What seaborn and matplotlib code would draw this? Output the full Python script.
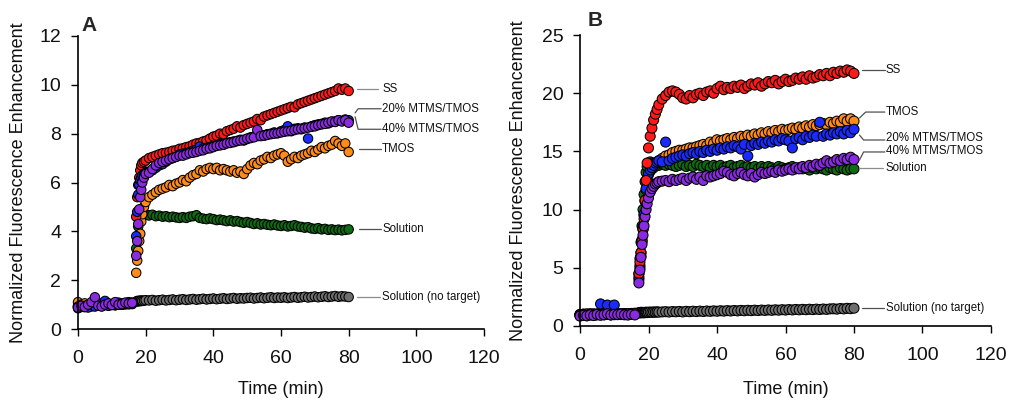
import matplotlib
matplotlib.use("Agg")
import matplotlib.pyplot as plt
import pandas as pd
import seaborn as sns

# ---------------- Panel A data ----------------
time_a = [0, 1, 2, 3, 4, 5, 6, 7, 8, 9, 10, 11, 12, 13, 14, 15, 16,
          17.2, 17.5, 17.8, 18.1, 18.4, 18.7, 19, 19.5, 20,
          21, 22, 23, 24, 25, 26, 27, 28, 29, 30,
          31, 32, 33, 34, 35, 36, 37, 38, 39, 40,
          41, 42, 43, 44, 45, 46, 47, 48, 49, 50,
          51, 52, 53, 54, 55, 56, 57, 58, 59, 60,
          61, 62, 63, 64, 65, 66, 67, 68, 69, 70,
          71, 72, 73, 74, 75, 76, 77, 78, 79, 80]

a_ss = [0.92, 0.95, 0.90, 0.98, 0.93, 1.00, 0.96, 0.99, 1.02, 0.97, 1.00, 1.04, 0.99, 1.03, 1.05, 1.01, 1.06,
        4.6, 5.4, 5.9, 6.2, 6.5, 6.7, 6.8, 6.85, 6.9,
        7.00, 7.05, 7.10, 7.15, 7.20, 7.22, 7.25, 7.30, 7.32, 7.38,
        7.40, 7.45, 7.48, 7.55, 7.60, 7.62, 7.68, 7.72, 7.80, 7.88,
        7.92, 8.00, 7.98, 8.10, 8.15, 8.20, 8.30, 8.25, 8.35, 8.40,
        8.45, 8.50, 8.60, 8.55, 8.70, 8.75, 8.80, 8.85, 8.90, 8.95,
        9.00, 9.05, 9.10, 9.08, 9.20, 9.25, 9.30, 9.35, 9.40, 9.45,
        9.50, 9.55, 9.60, 9.65, 9.70, 9.75, 9.85, 9.80, 9.85, 9.75]

a_m20 = [0.85, 0.90, 0.95, 0.88, 1.00, 0.92, 0.97, 1.05, 1.15, 0.95, 1.02, 0.98, 1.08, 1.00, 1.05, 1.10, 1.02,
         3.8, 4.8, 5.5, 5.9, 6.1, 6.2, 6.3, 6.35, 6.4,
         6.45, 6.50, 6.60, 6.70, 6.75, 6.85, 6.95, 7.00, 7.05, 7.15,
         7.18, 7.20, 7.25, 7.30, 7.35, 7.47, 7.40, 7.42, 7.45, 7.50,
         7.52, 7.58, 7.55, 7.62, 7.65, 7.68, 7.70, 7.75, 7.72, 7.78,
         7.85, 7.88, 7.90, 7.95, 7.92, 7.98, 8.00, 8.05, 8.02, 8.10,
         8.15, 8.30, 8.10, 8.20, 8.22, 8.18, 8.25, 7.80, 8.30, 8.35,
         8.38, 8.40, 8.45, 8.42, 8.48, 8.50, 8.55, 8.52, 8.58, 8.55]

a_m40 = [0.88, 0.95, 0.90, 1.00, 1.10, 1.30, 0.95, 0.92, 1.00, 1.05, 0.98, 1.10, 1.00, 1.02, 1.08, 1.05, 1.07,
         3.0, 3.6, 4.3, 4.9, 5.4, 5.7, 6.0, 6.2, 6.35,
         6.40, 6.55, 6.70, 6.80, 6.85, 6.90, 6.95, 7.00, 7.05, 7.10,
         7.10, 7.15, 7.20, 7.22, 7.25, 7.30, 7.32, 7.38, 7.40, 7.45,
         7.50, 7.52, 7.55, 7.60, 7.62, 7.65, 7.70, 7.72, 7.75, 7.80,
         7.82, 7.85, 8.15, 7.90, 7.92, 7.95, 7.98, 8.00, 8.02, 8.05,
         8.08, 8.10, 8.12, 8.15, 8.18, 8.20, 8.22, 8.25, 8.28, 8.30,
         8.35, 8.38, 8.40, 8.45, 8.50, 8.48, 8.55, 8.50, 8.55, 8.45]

a_tmos = [1.10, 1.00, 1.05, 0.95, 1.00, 0.98, 1.02, 0.96, 1.00, 1.04, 0.99, 1.02, 1.05, 1.00, 1.06, 1.03, 1.08,
          2.3, 2.8, 3.2, 3.6, 3.9, 4.4, 4.7, 5.0, 5.2,
          5.40, 5.50, 5.60, 5.70, 5.75, 5.80, 5.90, 5.85, 5.95, 6.00,
          6.10, 6.05, 6.20, 6.30, 6.35, 6.50, 6.45, 6.55, 6.60, 6.55,
          6.60, 6.50, 6.55, 6.50, 6.45, 6.50, 6.40, 6.45, 6.35, 6.55,
          6.70, 6.80, 6.75, 6.90, 6.95, 7.05, 7.00, 7.10, 7.15, 7.20,
          7.10, 6.85, 6.95, 7.05, 7.00, 7.10, 7.15, 7.20, 7.30, 7.25,
          7.35, 7.45, 7.40, 7.50, 7.55, 7.70, 7.60, 7.50, 7.60, 7.25]

a_sol = [0.95, 1.00, 0.92, 0.98, 1.02, 0.96, 1.00, 0.94, 1.03, 0.99, 1.01, 0.97, 1.04, 1.00, 1.02, 1.05, 1.03,
         3.3, 3.8, 4.2, 4.45, 4.55, 4.6, 4.65, 4.65, 4.68,
         4.65, 4.68, 4.62, 4.64, 4.60, 4.62, 4.58, 4.60, 4.57, 4.55,
         4.58, 4.55, 4.60, 4.62, 4.66, 4.55, 4.52, 4.50, 4.53, 4.50,
         4.46, 4.48, 4.45, 4.42, 4.45, 4.40, 4.42, 4.38, 4.35, 4.38,
         4.34, 4.30, 4.33, 4.28, 4.30, 4.27, 4.25, 4.28, 4.24, 4.22,
         4.25, 4.20, 4.22, 4.25, 4.20, 4.18, 4.15, 4.17, 4.12, 4.10,
         4.13, 4.08, 4.10, 4.06, 4.08, 4.05, 4.07, 4.04, 4.06, 4.08]

a_nt = [0.90, 0.95, 0.92, 0.97, 0.94, 0.99, 0.96, 1.00, 0.98, 1.01, 0.99, 1.02, 1.00, 1.03, 1.01, 1.04, 1.05,
        1.12, 1.15, 1.13, 1.16, 1.14, 1.17, 1.15, 1.16, 1.18,
        1.17, 1.19, 1.16, 1.18, 1.20, 1.17, 1.19, 1.21, 1.18, 1.20,
        1.22, 1.19, 1.21, 1.23, 1.20, 1.22, 1.24, 1.21, 1.23, 1.25,
        1.22, 1.24, 1.26, 1.23, 1.25, 1.27, 1.24, 1.26, 1.25, 1.27,
        1.28, 1.25, 1.27, 1.29, 1.26, 1.28, 1.30, 1.27, 1.29, 1.28,
        1.30, 1.27, 1.29, 1.31, 1.28, 1.30, 1.32, 1.29, 1.31, 1.33,
        1.30, 1.32, 1.34, 1.31, 1.33, 1.35, 1.32, 1.34, 1.33, 1.31]

# ---------------- Panel B data ----------------
time_b = [0, 1, 2, 3, 4, 5, 6, 7, 8, 9, 10, 11, 12, 13, 14, 15, 16,
          17.2, 17.5, 17.8, 18.1, 18.4, 18.7, 19, 19.3, 19.6, 20, 20.5, 21, 21.5, 22, 22.5, 23, 24,
          25, 26, 27, 28, 29, 30, 31, 32, 33, 34,
          35, 36, 37, 38, 39, 40, 41, 42, 43, 44,
          45, 46, 47, 48, 49, 50, 51, 52, 53, 54,
          55, 56, 57, 58, 59, 60, 61, 62, 63, 64,
          65, 66, 67, 68, 69, 70, 71, 72, 73, 74,
          75, 76, 77, 78, 79, 80]

b_ss = [0.90, 0.95, 0.88, 0.97, 0.92, 1.00, 0.95, 0.98, 1.02, 0.96, 1.00, 1.04, 0.98, 1.03, 1.05, 1.00, 1.06,
        4.5, 5.5, 6.3, 7.3, 8.3, 9.2, 10.8, 12.5, 14.0, 15.3, 16.3, 17.0, 17.7, 18.2, 18.6, 19.0, 19.5,
        19.8, 20.1, 20.2, 20.1, 19.9, 19.6, 19.5, 19.8, 19.6, 19.9,
        20.0, 19.8, 20.1, 20.2, 20.0, 20.4, 20.6, 20.3, 20.5, 20.4,
        20.6, 20.5, 20.7, 20.4, 20.6, 20.8, 20.7, 20.9, 20.6, 20.8,
        21.0, 20.9, 21.1, 20.8, 21.0, 21.2, 21.0, 21.1, 21.3, 21.2,
        21.4, 21.2, 21.5, 21.3, 21.4, 21.6, 21.5, 21.7, 21.5, 21.8,
        21.7, 21.9, 21.8, 22.0, 21.9, 21.7]

b_tmos = [1.00, 0.95, 1.05, 0.98, 1.02, 0.96, 1.00, 1.04, 0.99, 1.02, 0.97, 1.03, 1.00, 1.05, 1.01, 1.04, 1.06,
          4.0, 5.0, 6.0, 7.2, 8.3, 9.5, 10.7, 11.7, 12.5, 13.0, 13.3, 13.5, 13.6, 13.8, 14.0, 14.2, 14.4,
          14.6, 14.7, 14.9, 15.0, 15.1, 15.1, 15.2, 15.3, 15.3, 15.4,
          15.5, 15.6, 15.5, 15.8, 15.7, 16.0, 15.9, 16.0, 16.1, 16.0,
          16.2, 16.1, 16.3, 16.2, 16.4, 16.3, 16.5, 16.4, 16.6, 16.5,
          16.7, 16.6, 16.8, 16.7, 16.9, 16.8, 16.9, 17.0, 16.9, 17.1,
          17.0, 17.2, 17.1, 17.3, 17.2, 17.3, 17.4, 17.3, 17.5, 17.4,
          17.6, 17.5, 17.8, 17.6, 17.8, 17.6]

b_m20 = [0.95, 1.00, 0.92, 1.05, 0.98, 1.02, 1.90, 1.00, 1.80, 0.97, 1.80, 1.02, 0.99, 1.04, 1.00, 1.05, 1.03,
         4.2, 5.2, 6.3, 7.4, 8.5, 9.6, 10.8, 11.8, 12.6, 13.1, 13.4, 13.6, 13.8, 14.0, 14.1, 14.2, 14.1,
         15.8, 14.2, 14.4, 14.5, 14.6, 14.7, 14.6, 14.8, 14.9, 14.8,
         15.0, 14.9, 15.1, 15.0, 15.2, 15.1, 15.3, 15.2, 15.4, 15.3,
         15.5, 15.4, 15.2, 15.6, 14.6, 15.5, 15.7, 15.6, 15.8, 15.7,
         15.9, 15.8, 16.0, 15.9, 16.1, 16.0, 15.9, 15.3, 16.1, 16.2,
         16.0, 16.3, 16.2, 16.4, 16.3, 17.5, 16.3, 16.5, 16.4, 16.6,
         16.5, 16.7, 16.5, 16.8, 16.6, 16.9]

b_m40 = [0.85, 0.92, 0.88, 0.95, 0.90, 1.00, 0.93, 0.97, 1.05, 0.95, 1.00, 0.98, 1.02, 0.96, 0.94, 1.00, 0.95,
         3.7, 4.8, 5.9, 7.0, 7.8, 8.6, 9.4, 10.0, 10.5, 11.0, 11.5, 11.8, 12.0, 12.2, 12.3, 12.4, 12.45,
         12.5, 12.4, 12.6, 12.5, 12.6, 12.7, 12.5, 12.7, 12.8, 12.6,
         12.8, 12.5, 12.9, 12.8, 12.9, 13.0, 13.1, 13.3, 13.2, 13.0,
         12.9, 13.1, 13.2, 13.0, 12.9, 13.1, 12.8, 13.0, 13.2, 13.1,
         13.2, 13.3, 13.2, 13.4, 13.3, 13.4, 13.5, 13.4, 13.6, 13.5,
         13.7, 13.6, 13.8, 13.7, 13.9, 13.8, 14.0, 14.2, 14.0, 14.1,
         14.3, 14.2, 14.4, 14.3, 14.5, 14.3]

b_sol = [0.98, 1.02, 0.95, 1.00, 1.04, 0.97, 1.01, 0.96, 1.03, 0.99, 1.02, 0.98, 1.05, 1.00, 1.03, 0.99, 1.04,
         4.5, 5.8, 7.2, 8.6, 10.0, 11.3, 12.4, 13.2, 13.7, 14.0, 14.1, 14.0, 13.9, 14.0, 13.9, 13.8, 13.9,
         13.8, 13.9, 13.8, 13.7, 13.8, 13.9, 13.7, 13.8, 13.7, 13.9,
         13.8, 13.7, 13.8, 13.6, 13.8, 13.7, 13.8, 13.6, 13.7, 13.8,
         13.6, 13.7, 13.8, 13.6, 13.7, 13.6, 13.7, 13.5, 13.7, 13.6,
         13.7, 13.6, 13.5, 13.7, 13.6, 13.5, 13.6, 13.7, 13.5, 13.6,
         13.5, 13.6, 13.4, 13.6, 13.5, 13.6, 13.5, 13.4, 13.6, 13.5,
         13.4, 13.6, 13.5, 13.4, 13.5, 13.5]

b_nt = [0.95, 1.00, 0.97, 1.02, 0.99, 1.03, 1.00, 1.04, 1.01, 1.05, 1.02, 1.06, 1.03, 1.07, 1.04, 1.08, 1.10,
        1.15, 1.12, 1.18, 1.14, 1.17, 1.13, 1.16, 1.19, 1.15, 1.18, 1.20, 1.17, 1.21, 1.18, 1.22, 1.19, 1.21,
        1.23, 1.20, 1.24, 1.22, 1.25, 1.21, 1.26, 1.23, 1.27, 1.24,
        1.28, 1.25, 1.29, 1.26, 1.30, 1.27, 1.31, 1.28, 1.32, 1.29,
        1.33, 1.30, 1.34, 1.31, 1.35, 1.32, 1.36, 1.33, 1.37, 1.34,
        1.38, 1.35, 1.39, 1.36, 1.40, 1.37, 1.41, 1.38, 1.42, 1.39,
        1.43, 1.40, 1.44, 1.41, 1.45, 1.42, 1.46, 1.43, 1.47, 1.48,
        1.45, 1.50, 1.47, 1.52, 1.49, 1.53]

x_ticks = [0, 20, 40, 60, 80, 100, 120]
yticks_a = [0, 2, 4, 6, 8, 10, 12]
yticks_b = [0, 5, 10, 15, 20, 25]

palette = {
    "Solution (no target)": "#6E6E6E",
    "Solution": "#0E6B12",
    "TMOS": "#FF8C1A",
    "SS": "#FF1A1A",
    "20% MTMS/TMOS": "#1A2BFF",
    "40% MTMS/TMOS": "#8A2BE2",
}

sns.set_theme(style="ticks")
plt.rcParams['font.family'] = ['Liberation Sans', 'DejaVu Sans']

fig = plt.figure(figsize=(10.12, 4.0), dpi=100)
axA = fig.add_axes([78 / 1012, 1 - 329 / 400, 406 / 1012, 293 / 400])
axB = fig.add_axes([580 / 1012, 1 - 326 / 400, 411 / 1012, 291 / 400])


def long_frame(t, series):
    parts = []
    for name, vals in series:
        parts.append(pd.DataFrame({"t": t, "v": vals, "series": name}))
    return pd.concat(parts, ignore_index=True)


df_a = long_frame(time_a, [("Solution (no target)", a_nt), ("Solution", a_sol), ("TMOS", a_tmos),
                           ("SS", a_ss), ("20% MTMS/TMOS", a_m20), ("40% MTMS/TMOS", a_m40)])
df_b = long_frame(time_b, [("Solution (no target)", b_nt), ("Solution", b_sol), ("TMOS", b_tmos),
                           ("20% MTMS/TMOS", b_m20), ("SS", b_ss), ("40% MTMS/TMOS", b_m40)])

sns.scatterplot(data=df_a, x="t", y="v", hue="series", palette=palette, s=46,
                edgecolor="black", linewidth=0.75, legend=False, clip_on=False, ax=axA)
sns.scatterplot(data=df_b, x="t", y="v", hue="series", palette=palette, s=52,
                edgecolor="black", linewidth=0.75, legend=False, clip_on=False, ax=axB)

for ax, yt, ylim in [(axA, yticks_a, 12), (axB, yticks_b, 25)]:
    ax.set_xlim(0, 120)
    ax.set_ylim(0, ylim)
    ax.set_xticks(x_ticks)
    ax.set_yticks(yt)
    for s in ["top", "right"]:
        ax.spines[s].set_visible(False)
    for s in ["left", "bottom"]:
        ax.spines[s].set_color("black")
        ax.spines[s].set_linewidth(1.2)
    ax.tick_params(axis="both", direction="out", length=5, width=1, color="black",
                   labelsize=14, labelcolor="#111111")
    ax.tick_params(axis="x", pad=10)
    ax.tick_params(axis="y", pad=7)
    ax.set_xlabel("Time (min)", fontsize=13, color="#111111")
    ax.set_ylabel("Normalized Fluorescence Enhancement", fontsize=13, color="#111111")
    ax.grid(False)

axA.xaxis.set_label_coords(0.5, -0.177)
axB.xaxis.set_label_coords(0.5, -0.189)
axA.yaxis.set_label_coords(-0.126, 0.5)
axB.yaxis.set_label_coords(-0.129, 0.5)

fig.text(89.5 / 1012, 1 - 25.5 / 400, "A", fontsize=15, fontweight="bold", ha="center", va="center")
fig.text(595 / 1012, 1 - 20.5 / 400, "B", fontsize=15, fontweight="bold", ha="center", va="center")

# leader lines and series labels (outside the axes)
lab_fs = 8.3
lc = "#8C8C8C"
dc = "#505050"


def label(ax, pts, text_xy, text, color):
    xs = [p[0] for p in pts]
    ys = [p[1] for p in pts]
    ax.plot(xs, ys, color=color, lw=0.9, clip_on=False)
    ax.text(text_xy[0], text_xy[1], text, fontsize=lab_fs, ha="left", va="center",
            color="#111111", clip_on=False)


label(axA, [(82.5, 9.84), (88.7, 9.84)], (89.9, 9.84), "SS", lc)
label(axA, [(81.9, 8.85), (82.8, 9.02), (89.6, 9.02)], (89.9, 9.02), "20% MTMS/TMOS", dc)
label(axA, [(81.9, 8.69), (82.8, 8.18), (89.6, 8.18)], (89.9, 8.2), "40% MTMS/TMOS", dc)
label(axA, [(83.1, 7.38), (89.6, 7.38)], (89.9, 7.38), "TMOS", dc)
label(axA, [(83.1, 4.1), (89.6, 4.1)], (89.9, 4.1), "Solution", dc)
label(axA, [(82.5, 1.31), (89.3, 1.31)], (89.9, 1.31), "Solution (no target)", lc)

label(axB, [(82.2, 22.0), (89.0, 22.0)], (89.3, 22.0), "SS", dc)
label(axB, [(81.6, 17.87), (83.4, 18.38), (89.0, 18.38)], (89.3, 18.38), "TMOS", dc)
label(axB, [(81.6, 16.4), (82.8, 15.98), (89.0, 15.98)], (89.3, 16.15), "20% MTMS/TMOS", dc)
label(axB, [(81.6, 14.26), (82.8, 14.95), (89.0, 14.95)], (89.3, 15.03), "40% MTMS/TMOS", dc)
label(axB, [(81.6, 13.57), (88.4, 13.57)], (89.3, 13.57), "Solution", lc)
label(axB, [(82.2, 1.55), (88.7, 1.55)], (89.3, 1.55), "Solution (no target)", dc)

fig.savefig("out.png", dpi=100)
